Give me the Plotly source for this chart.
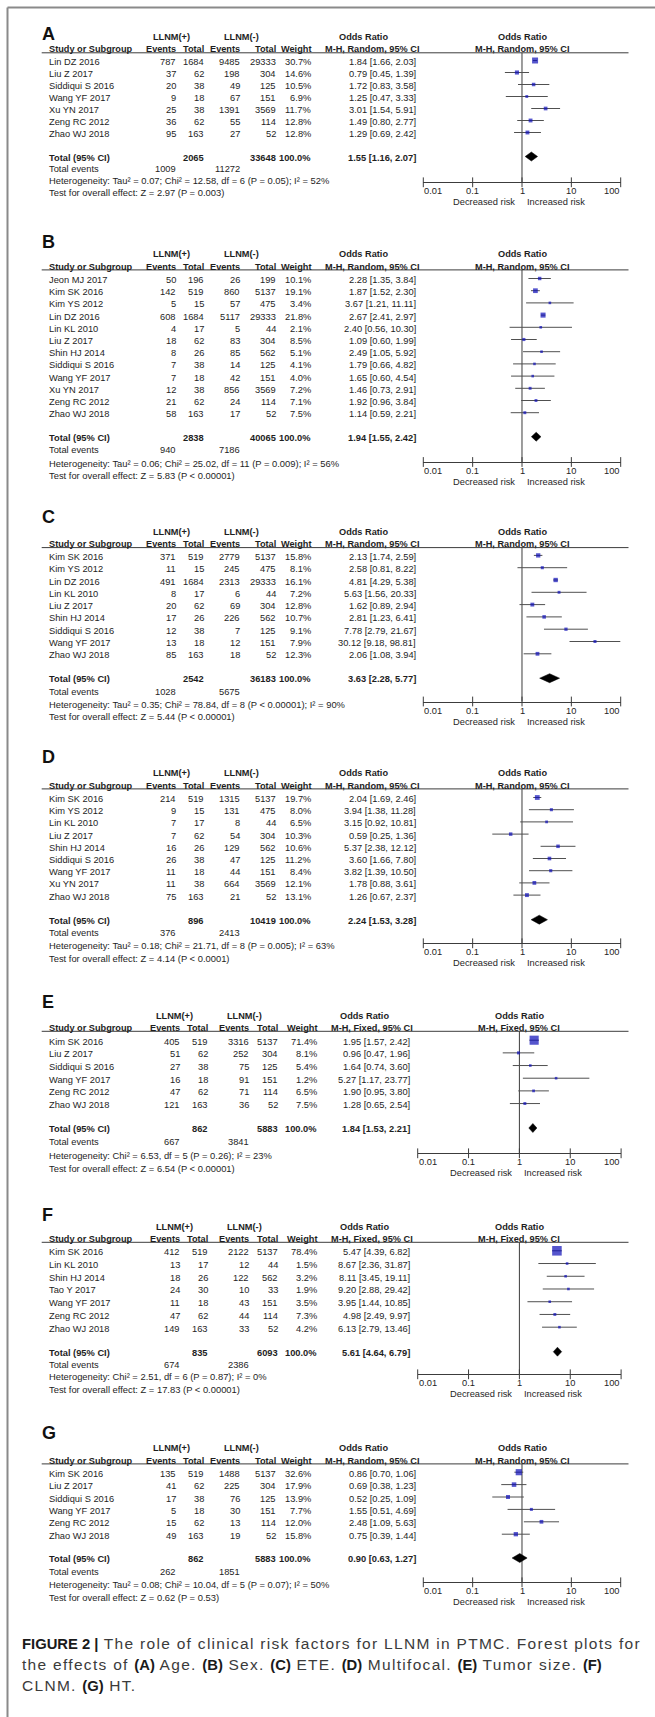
import math
import plotly.graph_objects as go

W, H = 655, 1717

# ---------------- study data per forest plot ----------------
# A: Age
a_study = ["Lin DZ 2016", "Liu Z 2017", "Siddiqui S 2016", "Wang YF 2017", "Xu YN 2017", "Zeng RC 2012", "Zhao WJ 2018"]
a_ev_pos = [787, 37, 20, 9, 25, 36, 95]
a_n_pos = [1684, 62, 38, 18, 38, 62, 163]
a_ev_neg = [9485, 198, 49, 67, 1391, 55, 27]
a_n_neg = [29333, 304, 125, 151, 3569, 114, 52]
a_weight = [30.7, 14.6, 10.5, 6.9, 11.7, 12.8, 12.8]
a_or = [1.84, 0.79, 1.72, 1.25, 3.01, 1.49, 1.29]
a_lo = [1.66, 0.45, 0.83, 0.47, 1.54, 0.80, 0.69]
a_hi = [2.03, 1.39, 3.58, 3.33, 5.91, 2.77, 2.42]
a_totals = [2065, 33648]
a_events = [1009, 11272]
a_pooled = [1.55, 1.16, 2.07]
a_het = "Heterogeneity: Tau² = 0.07; Chi² = 12.58, df = 6 (P = 0.05); I² = 52%"
a_test = "Test for overall effect: Z = 2.97 (P = 0.003)"

# B: Sex
b_study = ["Jeon MJ 2017", "Kim SK 2016", "Kim YS 2012", "Lin DZ 2016", "Lin KL 2010", "Liu Z 2017",
           "Shin HJ 2014", "Siddiqui S 2016", "Wang YF 2017", "Xu YN 2017", "Zeng RC 2012", "Zhao WJ 2018"]
b_ev_pos = [50, 142, 5, 608, 4, 18, 8, 7, 7, 12, 21, 58]
b_n_pos = [196, 519, 15, 1684, 17, 62, 26, 38, 18, 38, 62, 163]
b_ev_neg = [26, 860, 57, 5117, 5, 83, 85, 14, 42, 856, 24, 17]
b_n_neg = [199, 5137, 475, 29333, 44, 304, 562, 125, 151, 3569, 114, 52]
b_weight = [10.1, 19.1, 3.4, 21.8, 2.1, 8.5, 5.1, 4.1, 4.0, 7.2, 7.1, 7.5]
b_or = [2.28, 1.87, 3.67, 2.67, 2.40, 1.09, 2.49, 1.79, 1.65, 1.46, 1.92, 1.14]
b_lo = [1.35, 1.52, 1.21, 2.41, 0.56, 0.60, 1.05, 0.66, 0.60, 0.73, 0.96, 0.59]
b_hi = [3.84, 2.30, 11.11, 2.97, 10.30, 1.99, 5.92, 4.82, 4.54, 2.91, 3.84, 2.21]
b_totals = [2838, 40065]
b_events = [940, 7186]
b_pooled = [1.94, 1.55, 2.42]
b_het = "Heterogeneity: Tau² = 0.06; Chi² = 25.02, df = 11 (P = 0.009); I² = 56%"
b_test = "Test for overall effect: Z = 5.83 (P < 0.00001)"

# C: ETE
c_study = ["Kim SK 2016", "Kim YS 2012", "Lin DZ 2016", "Lin KL 2010", "Liu Z 2017", "Shin HJ 2014",
           "Siddiqui S 2016", "Wang YF 2017", "Zhao WJ 2018"]
c_ev_pos = [371, 11, 491, 8, 20, 17, 12, 13, 85]
c_n_pos = [519, 15, 1684, 17, 62, 26, 38, 18, 163]
c_ev_neg = [2779, 245, 2313, 6, 69, 226, 7, 12, 18]
c_n_neg = [5137, 475, 29333, 44, 304, 562, 125, 151, 52]
c_weight = [15.8, 8.1, 16.1, 7.2, 12.8, 10.7, 9.1, 7.9, 12.3]
c_or = [2.13, 2.58, 4.81, 5.63, 1.62, 2.81, 7.78, 30.12, 2.06]
c_lo = [1.74, 0.81, 4.29, 1.56, 0.89, 1.23, 2.79, 9.18, 1.08]
c_hi = [2.59, 8.22, 5.38, 20.33, 2.94, 6.41, 21.67, 98.81, 3.94]
c_totals = [2542, 36183]
c_events = [1028, 5675]
c_pooled = [3.63, 2.28, 5.77]
c_het = "Heterogeneity: Tau² = 0.35; Chi² = 78.84, df = 8 (P < 0.00001); I² = 90%"
c_test = "Test for overall effect: Z = 5.44 (P < 0.00001)"

# D: Multifocal
d_study = ["Kim SK 2016", "Kim YS 2012", "Lin KL 2010", "Liu Z 2017", "Shin HJ 2014", "Siddiqui S 2016",
           "Wang YF 2017", "Xu YN 2017", "Zhao WJ 2018"]
d_ev_pos = [214, 9, 7, 7, 16, 26, 11, 11, 75]
d_n_pos = [519, 15, 17, 62, 26, 38, 18, 38, 163]
d_ev_neg = [1315, 131, 8, 54, 129, 47, 44, 664, 21]
d_n_neg = [5137, 475, 44, 304, 562, 125, 151, 3569, 52]
d_weight = [19.7, 8.0, 6.5, 10.3, 10.6, 11.2, 8.4, 12.1, 13.1]
d_or = [2.04, 3.94, 3.15, 0.59, 5.37, 3.60, 3.82, 1.78, 1.26]
d_lo = [1.69, 1.38, 0.92, 0.25, 2.38, 1.66, 1.39, 0.88, 0.67]
d_hi = [2.46, 11.28, 10.81, 1.36, 12.12, 7.80, 10.50, 3.61, 2.37]
d_totals = [896, 10419]
d_events = [376, 2413]
d_pooled = [2.24, 1.53, 3.28]
d_het = "Heterogeneity: Tau² = 0.18; Chi² = 21.71, df = 8 (P = 0.005); I² = 63%"
d_test = "Test for overall effect: Z = 4.14 (P < 0.0001)"

# E: Tumor size
e_study = ["Kim SK 2016", "Liu Z 2017", "Siddiqui S 2016", "Wang YF 2017", "Zeng RC 2012", "Zhao WJ 2018"]
e_ev_pos = [405, 51, 27, 16, 47, 121]
e_n_pos = [519, 62, 38, 18, 62, 163]
e_ev_neg = [3316, 252, 75, 91, 71, 36]
e_n_neg = [5137, 304, 125, 151, 114, 52]
e_weight = [71.4, 8.1, 5.4, 1.2, 6.5, 7.5]
e_or = [1.95, 0.96, 1.64, 5.27, 1.90, 1.28]
e_lo = [1.57, 0.47, 0.74, 1.17, 0.95, 0.65]
e_hi = [2.42, 1.96, 3.60, 23.77, 3.80, 2.54]
e_totals = [862, 5883]
e_events = [667, 3841]
e_pooled = [1.84, 1.53, 2.21]
e_het = "Heterogeneity: Chi² = 6.53, df = 5 (P = 0.26); I² = 23%"
e_test = "Test for overall effect: Z = 6.54 (P < 0.00001)"

# F: CLNM
f_study = ["Kim SK 2016", "Lin KL 2010", "Shin HJ 2014", "Tao Y 2017", "Wang YF 2017", "Zeng RC 2012", "Zhao WJ 2018"]
f_ev_pos = [412, 13, 18, 24, 11, 47, 149]
f_n_pos = [519, 17, 26, 30, 18, 62, 163]
f_ev_neg = [2122, 12, 122, 10, 43, 44, 33]
f_n_neg = [5137, 44, 562, 33, 151, 114, 52]
f_weight = [78.4, 1.5, 3.2, 1.9, 3.5, 7.3, 4.2]
f_or = [5.47, 8.67, 8.11, 9.20, 3.95, 4.98, 6.13]
f_lo = [4.39, 2.36, 3.45, 2.88, 1.44, 2.49, 2.79]
f_hi = [6.82, 31.87, 19.11, 29.42, 10.85, 9.97, 13.46]
f_totals = [835, 6093]
f_events = [674, 2386]
f_pooled = [5.61, 4.64, 6.79]
f_het = "Heterogeneity: Chi² = 2.51, df = 6 (P = 0.87); I² = 0%"
f_test = "Test for overall effect: Z = 17.83 (P < 0.00001)"

# G: HT
g_study = ["Kim SK 2016", "Liu Z 2017", "Siddiqui S 2016", "Wang YF 2017", "Zeng RC 2012", "Zhao WJ 2018"]
g_ev_pos = [135, 41, 17, 5, 15, 49]
g_n_pos = [519, 62, 38, 18, 62, 163]
g_ev_neg = [1488, 225, 76, 30, 13, 19]
g_n_neg = [5137, 304, 125, 151, 114, 52]
g_weight = [32.6, 17.9, 13.9, 7.7, 12.0, 15.8]
g_or = [0.86, 0.69, 0.52, 1.55, 2.48, 0.75]
g_lo = [0.70, 0.38, 0.25, 0.51, 1.09, 0.39]
g_hi = [1.06, 1.23, 1.09, 4.69, 5.63, 1.44]
g_totals = [862, 5883]
g_events = [262, 1851]
g_pooled = [0.90, 0.63, 1.27]
g_het = "Heterogeneity: Tau² = 0.08; Chi² = 10.04, df = 5 (P = 0.07); I² = 50%"
g_test = "Test for overall effect: Z = 0.62 (P = 0.53)"

panel_tags = ["A", "B", "C", "D", "E", "F", "G"]
panel_models = ["Random", "Random", "Random", "Random", "Fixed", "Fixed", "Random"]
group_labels = ["LLNM(+)", "LLNM(-)"]
col_labels = ["Study or Subgroup", "Events", "Total", "Events", "Total", "Weight"]
tick_values = [0.01, 0.1, 1, 10, 100]
tick_text = ["0.01", "0.1", "1", "10", "100"]
risk_labels = ["Decreased risk", "Increased risk"]
# caption: (bold?, text) pieces per line
caption_lines = [
    [(True, "FIGURE 2 |"), (False, " The role of clinical risk factors for LLNM in PTMC. Forest plots for")],
    [(False, "the effects of "), (True, "(A)"), (False, " Age. "), (True, "(B)"), (False, " Sex. "),
     (True, "(C)"), (False, " ETE. "), (True, "(D)"), (False, " Multifocal. "), (True, "(E)"),
     (False, " Tumor size. "), (True, "(F)")],
    [(False, "CLNM. "), (True, "(G)"), (False, " HT.")],
]

# ---------------- assemble panels ----------------
raw = [
    (a_study, a_ev_pos, a_n_pos, a_ev_neg, a_n_neg, a_weight, a_or, a_lo, a_hi, a_totals, a_events, a_pooled, a_het, a_test),
    (b_study, b_ev_pos, b_n_pos, b_ev_neg, b_n_neg, b_weight, b_or, b_lo, b_hi, b_totals, b_events, b_pooled, b_het, b_test),
    (c_study, c_ev_pos, c_n_pos, c_ev_neg, c_n_neg, c_weight, c_or, c_lo, c_hi, c_totals, c_events, c_pooled, c_het, c_test),
    (d_study, d_ev_pos, d_n_pos, d_ev_neg, d_n_neg, d_weight, d_or, d_lo, d_hi, d_totals, d_events, d_pooled, d_het, d_test),
    (e_study, e_ev_pos, e_n_pos, e_ev_neg, e_n_neg, e_weight, e_or, e_lo, e_hi, e_totals, e_events, e_pooled, e_het, e_test),
    (f_study, f_ev_pos, f_n_pos, f_ev_neg, f_n_neg, f_weight, f_or, f_lo, f_hi, f_totals, f_events, f_pooled, f_het, f_test),
    (g_study, g_ev_pos, g_n_pos, g_ev_neg, g_n_neg, g_weight, g_or, g_lo, g_hi, g_totals, g_events, g_pooled, g_het, g_test),
]
keys = ["study", "ev1", "n1", "ev2", "n2", "wt", "or", "lo", "hi", "totals", "events", "pooled", "het", "test"]
panels = [dict(zip(keys, r)) for r in raw]

# ---------------- page geometry (pixels) ----------------
COLS = {
    "Random": dict(study=48.3, ev1=177.0, n1=204.5, ev2=241.0, n2=277.0, wt=312.0, ci=416.5,
                   or_hdr=363.0, mh_hdr=372.0, grp1=171.0, grp2=241.0, ax0=423.3, ax1=620.7),
    "Fixed": dict(study=48.3, ev1=181.0, n1=209.0, ev2=249.5, n2=278.5, wt=318.0, ci=410.5,
                  or_hdr=364.0, mh_hdr=372.0, grp1=174.7, grp2=244.4, ax0=417.7, ax1=621.1),
}
ROWS = [
    dict(tag=33.8, h1=37.2, row1=62.0, step=12.0, total=157.5, fs=11.7, axis=182.3),
    dict(tag=241.5, h1=254.3, row1=280.0, step=12.2, total=437.7, fs=12.7, axis=462.0),
    dict(tag=516.7, h1=532.0, row1=556.9, step=12.3, total=679.2, fs=12.5, axis=701.5),
    dict(tag=756.7, h1=773.3, row1=799.0, step=12.2, total=920.7, fs=12.5, axis=943.3),
    dict(tag=1001.7, h1=1015.7, row1=1041.7, step=12.67, total=1129.0, fs=13.1, axis=1153.3),
    dict(tag=1215.0, h1=1226.7, row1=1252.3, step=12.73, total=1352.7, fs=12.1, axis=1374.3),
    dict(tag=1433.3, h1=1448.3, row1=1473.7, step=12.4, total=1559.0, fs=12.8, axis=1582.3),
]

FONT = "Arial, 'Liberation Sans', Helvetica, sans-serif"
FS = 9.3          # table body
FS_HDR = 9.2      # bold column headers
FS_FOOT = 9.4     # heterogeneity / overall effect lines
TXT = "#1e1e1e"
BLUE = "#0d0db8"
CI_COLOR = "#505050"
AXIS_COLOR = "#3c3c3c"
FRAME = "#8a8a8a"

fig = go.Figure()
annotations = []
shapes = []


def text(x, y, s, anchor="left", size=FS, bold=False, color=TXT, xref="x", xshift=0):
    annotations.append(dict(
        x=x, y=y, xref=xref, yref="y", text=f"<b>{s}</b>" if bold else s,
        showarrow=False, xanchor=anchor, yanchor="middle", borderpad=0, xshift=xshift,
        font=dict(size=size, color=color, family=FONT),
    ))


def fmt_ci(v, lo, hi):
    return f"{v:.2f} [{lo:.2f}, {hi:.2f}]"


for k, (p, tag, model, R) in enumerate(zip(panels, panel_tags, panel_models, ROWS)):
    C = COLS[model]
    ax = f"x{k + 2}"
    line_y = R["h1"] + 15.6
    h2 = R["h1"] + 12.2
    n = len(p["study"])
    ys = [R["row1"] + i * R["step"] for i in range(n)]
    tot = R["total"]
    axis_y = R["axis"]

    # panel letter
    text(41.0, R["tag"], tag, size=18, bold=True, color="#111111")

    # header rows
    text(C["grp1"], R["h1"], group_labels[0], "center", size=FS_HDR, bold=True)
    text(C["grp2"], R["h1"], group_labels[1], "center", size=FS_HDR, bold=True)
    text(C["or_hdr"], R["h1"], "Odds Ratio", "center", size=FS_HDR, bold=True)
    text(C["study"], h2, col_labels[0], size=FS_HDR, bold=True)
    for lab, key in zip(col_labels[1:], ["ev1", "n1", "ev2", "n2", "wt"]):
        text(C[key], h2, lab, "right", size=FS_HDR, bold=True)
    mh = f"M-H, {model}, 95% CI"
    text(C["mh_hdr"], h2, mh, "center", size=FS_HDR, bold=True)
    text(0, R["h1"], "Odds Ratio", "center", size=FS_HDR, bold=True, xref=ax)
    text(0, h2, mh, "center", size=FS_HDR, bold=True, xref=ax)
    shapes.append(dict(type="line", xref="x", yref="y", x0=41.7, x1=628.5, y0=line_y, y1=line_y,
                       line=dict(color=AXIS_COLOR, width=1)))

    # study rows
    for i in range(n):
        y = ys[i]
        text(C["study"], y, p["study"][i])
        text(C["ev1"], y, str(p["ev1"][i]), "right")
        text(C["n1"], y, str(p["n1"][i]), "right")
        text(C["ev2"], y, str(p["ev2"][i]), "right")
        text(C["n2"], y, str(p["n2"][i]), "right")
        text(C["wt"], y, f"{p['wt'][i]:.1f}%", "right")
        text(C["ci"], y, fmt_ci(p["or"][i], p["lo"][i], p["hi"][i]), "right")

    # totals and footer
    pooled = p["pooled"]
    text(C["study"], tot, "Total (95% CI)", bold=True)
    text(C["n1"], tot, str(p["totals"][0]), "right", bold=True)
    text(C["n2"], tot, str(p["totals"][1]), "right", bold=True)
    text(C["wt"], tot, "100.0%", "right", bold=True)
    text(C["ci"], tot, fmt_ci(*pooled), "right", bold=True)
    text(C["study"], tot + R["fs"], "Total events")
    text(C["ev1"], tot + R["fs"], str(p["events"][0]), "right")
    text(C["ev2"], tot + R["fs"], str(p["events"][1]), "right")
    text(C["study"], tot + 2 * R["fs"], p["het"], size=FS_FOOT)
    text(C["study"], tot + 3 * R["fs"], p["test"], size=FS_FOOT)

    # forest axis on a log scale
    fig.update_layout(**{f"xaxis{k + 2}": dict(
        type="log", range=[-2, 2], domain=[C["ax0"] / W, C["ax1"] / W],
        anchor="free", position=1 - axis_y / H, showline=True, linecolor=AXIS_COLOR,
        linewidth=1, ticks="", showticklabels=False, showgrid=False, zeroline=False,
        fixedrange=True,
    )})
    for j, (tv, tt) in enumerate(zip(tick_values, tick_text)):
        anchor = "left" if j == 0 else ("right" if j == len(tick_values) - 1 else "center")
        text(math.log10(tv), axis_y + 9.0, tt, anchor, xref=ax)
    text(0, axis_y + 20.0, risk_labels[0], "right", xref=ax, xshift=-6)
    text(0, axis_y + 20.0, risk_labels[1], "left", xref=ax, xshift=4)

    # tick marks crossing the axis line
    fig.add_trace(go.Scatter(
        x=tick_values, y=[axis_y] * len(tick_values), xaxis=ax, yaxis="y", mode="markers",
        marker=dict(symbol="line-ns", size=7, line=dict(width=1, color=AXIS_COLOR)),
        hoverinfo="skip", showlegend=False, cliponaxis=False))

    # line of no effect
    fig.add_trace(go.Scatter(
        x=[1, 1], y=[line_y, axis_y], xaxis=ax, yaxis="y", mode="lines",
        line=dict(color=AXIS_COLOR, width=1), hoverinfo="skip", showlegend=False))

    # confidence intervals
    cx, cy = [], []
    for lo, hi, y in zip(p["lo"], p["hi"], ys):
        cx += [lo, hi, None]
        cy += [y - 1.5, y - 1.5, None]
    fig.add_trace(go.Scatter(
        x=cx, y=cy, xaxis=ax, yaxis="y", mode="lines",
        line=dict(color=CI_COLOR, width=1), hoverinfo="skip", showlegend=False))

    # study estimates, square size by weight
    sizes = [max(2.6, 1.08 * math.sqrt(w)) for w in p["wt"]]
    fig.add_trace(go.Scatter(
        x=p["or"], y=[y - 1.5 for y in ys], xaxis=ax, yaxis="y", mode="markers",
        marker=dict(symbol="square", size=sizes, color=BLUE, line=dict(width=0)),
        hoverinfo="skip", showlegend=False, cliponaxis=False))

    # pooled estimate diamond
    est, lo, hi = pooled
    yd = tot - 1.0
    fig.add_trace(go.Scatter(
        x=[lo, est, hi, est, lo], y=[yd, yd - 4.5, yd, yd + 4.5, yd], xaxis=ax, yaxis="y",
        mode="lines", fill="toself", fillcolor="#000000", line=dict(color="#000000", width=0.5),
        hoverinfo="skip", showlegend=False))

# caption: bold labels, light spaced body text
for i, pieces in enumerate(caption_lines):
    html = ""
    for is_bold, chunk in pieces:
        if is_bold:
            html += f'<span style="font-size:14.8px"><b>{chunk}</b></span>'
        else:
            html += f'<span style="letter-spacing:1.3px;fill:#3b3b3b">{chunk}</span>'
    annotations.append(dict(
        x=20.5, y=1643.5 + i * 20.8, xref="x", yref="y", text=html, showarrow=False,
        xanchor="left", yanchor="middle", borderpad=0,
        font=dict(size=15.5, color="#1a1a1a", family=FONT)))

# frame along the top and left edges
shapes.append(dict(type="line", xref="x", yref="y", x0=7.5, x1=W, y0=7.5, y1=7.5,
                   line=dict(color=FRAME, width=2)))
shapes.append(dict(type="line", xref="x", yref="y", x0=7.5, x1=7.5, y0=7.5, y1=H,
                   line=dict(color=FRAME, width=2)))

# base pixel-space subplot
fig.add_trace(go.Scatter(x=[0, W], y=[0, H], mode="markers", marker=dict(opacity=0),
                         hoverinfo="skip", showlegend=False))

fig.update_layout(
    width=W, height=H, margin=dict(l=0, r=0, t=0, b=0),
    paper_bgcolor="white", plot_bgcolor="rgba(0,0,0,0)",
    xaxis=dict(range=[0, W], domain=[0, 1], visible=False, fixedrange=True),
    yaxis=dict(range=[H, 0], domain=[0, 1], visible=False, fixedrange=True),
    annotations=annotations, shapes=shapes, showlegend=False,
)

fig.write_html("out.html")
